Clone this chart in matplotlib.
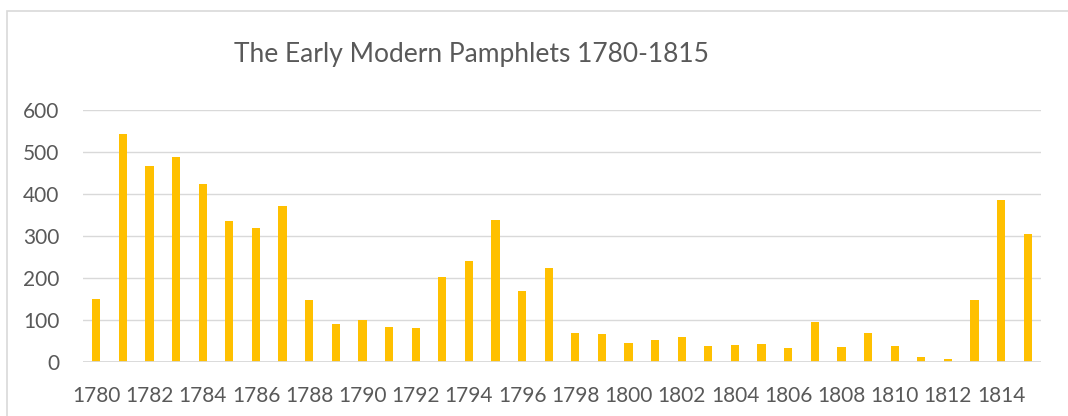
import matplotlib.pyplot as plt
from matplotlib.patches import Rectangle

years = list(range(1780, 1816))
counts = [149, 543, 466, 488, 424, 335, 318, 372, 147, 91,
          100, 83, 80, 203, 240, 339, 168, 224, 68, 67,
          46, 52, 60, 39, 40, 42, 34, 96, 36, 68,
          37, 11, 7, 147, 385, 304]
title = "The Early Modern Pamphlets 1780-1815"

TEXT = "#595959"
GRID = "#D9D9D9"
BAR = "#FFC000"

plt.rcParams['font.family'] = ['Lato', 'DejaVu Sans']

fig = plt.figure(figsize=(10.68, 4.16), dpi=100)
ax = fig.add_axes([83 / 1068, 54 / 416, 958 / 1068, 252 / 416])

x = list(range(len(years)))
ax.bar(x, counts, width=0.31, color=BAR, zorder=3)

ax.set_xlim(-0.5, len(years) - 0.5)
ax.set_ylim(0, 600)
ax.set_yticks(range(0, 601, 100))
ax.set_xticks(x[::2])
ax.set_xticklabels([str(y) for y in years[::2]])
ax.yaxis.grid(True, color=GRID, linewidth=1.0, zorder=0)
ax.tick_params(axis='both', length=0, colors=TEXT, labelsize=15)
ax.tick_params(axis='x', pad=17)
ax.tick_params(axis='y', pad=17)
for s in ax.spines.values():
    s.set_visible(False)
ax.axhline(0, color=GRID, linewidth=1.3, zorder=4)

fig.text(471 / 1068, 1 - 62 / 416, title, ha='center', va='baseline',
         fontsize=19, color=TEXT)

fig.patches.append(Rectangle((7 / 1068, -0.2), 1.2, 1 - 11 / 416 + 0.2,
                             transform=fig.transFigure, fill=False,
                             edgecolor=GRID, linewidth=1.2))

fig.savefig("out.png", dpi=100)
